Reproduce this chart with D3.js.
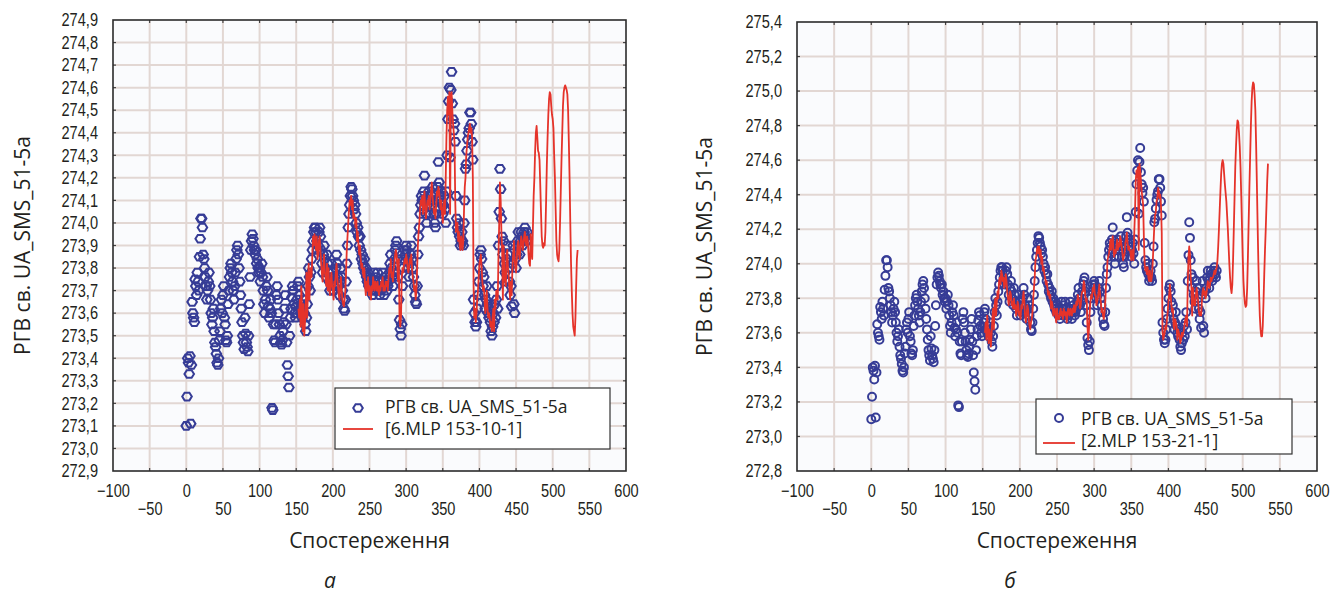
<!DOCTYPE html>
<html>
<head>
<meta charset="utf-8">
<script src="https://cdn.jsdelivr.net/npm/d3@7"></script>
<style>
  body { margin: 0; background: #fff; }
  svg { display: block; }
</style>
</head>
<body>
<svg id="chart" width="1338" height="593"></svg>
<script>
// observed groundwater level, one value per observation (index 0..465)
const observed = [
  273.10, 273.23, 273.40, 273.38, 273.33, 273.41, 273.11, 273.37, 273.65, 273.60,
  273.58, 273.56, 273.75, 273.72, 273.68, 273.78, 273.74, 273.70, 273.85, 273.93,
  274.02, 274.02, 273.98, 273.86, 273.84, 273.80, 273.76, 273.72, 273.66, 273.70,
  273.74, 273.78, 273.72, 273.66, 273.60, 273.55, 273.58, 273.62, 273.52, 273.47,
  273.45, 273.42, 273.38, 273.37, 273.40, 273.48, 273.52, 273.62, 273.66, 273.60,
  273.68, 273.72, 273.58, 273.55, 273.48, 273.47, 273.50, 273.64, 273.70, 273.76,
  273.80, 273.82, 273.78, 273.74, 273.70, 273.66, 273.72, 273.78, 273.84, 273.88,
  273.90, 273.86, 273.80, 273.74, 273.68, 273.62, 273.56, 273.50, 273.47, 273.44,
  273.58, 273.51, 273.47, 273.45, 273.43, 273.50, 273.64, 273.76, 273.88, 273.92,
  273.95, 273.93, 273.90, 273.88, 273.86, 273.88, 273.82, 273.84, 273.80, 273.78,
  273.80, 273.74, 273.78, 273.82, 273.76, 273.70, 273.64, 273.60, 273.66, 273.72,
  273.76, 273.70, 273.63, 273.58, 273.62, 273.66, 273.60, 273.18, 273.17, 273.55,
  273.48, 273.47, 273.55, 273.68, 273.72, 273.66, 273.60, 273.55, 273.50, 273.47,
  273.46, 273.48, 273.52, 273.56, 273.62, 273.68, 273.55, 273.47, 273.37, 273.32,
  273.27, 273.50, 273.58, 273.62, 273.67, 273.72, 273.70, 273.64, 273.60, 273.58,
  273.63, 273.66, 273.72, 273.74, 273.68, 273.62, 273.60, 273.64, 273.58, 273.62,
  273.66, 273.60, 273.55, 273.52, 273.58, 273.64, 273.72, 273.80, 273.76, 273.70,
  273.78, 273.84, 273.88, 273.92, 273.96, 273.98, 273.98, 273.96, 273.92, 273.88,
  273.90, 273.96, 273.98, 273.94, 273.88, 273.82, 273.78, 273.86, 273.90, 273.84,
  273.80, 273.76, 273.86, 273.82, 273.78, 273.74, 273.70, 273.76, 273.82, 273.78,
  273.74, 273.70, 273.72, 273.76, 273.80, 273.86, 273.82, 273.76, 273.72, 273.68,
  273.74, 273.80, 273.76, 273.70, 273.66, 273.62, 273.61, 273.66, 273.74, 273.82,
  273.90, 273.98, 274.04, 274.08, 274.12, 274.16, 274.15, 274.12, 274.10, 274.06,
  274.08, 274.04, 274.00, 273.96, 273.98, 273.94, 273.90, 273.94, 273.88, 273.84,
  273.86, 273.82, 273.80, 273.84, 273.78, 273.80, 273.76, 273.74, 273.78, 273.72,
  273.76, 273.72, 273.70, 273.74, 273.68, 273.72, 273.78, 273.74, 273.70, 273.76,
  273.72, 273.78, 273.74, 273.70, 273.68, 273.72, 273.70, 273.74, 273.78, 273.72,
  273.68, 273.72, 273.76, 273.74, 273.70, 273.72, 273.74, 273.78, 273.82, 273.86,
  273.80, 273.76, 273.72, 273.78, 273.84, 273.88, 273.90, 273.92, 273.84, 273.76,
  273.66, 273.57, 273.53, 273.50, 273.55, 273.72, 273.80, 273.84, 273.88, 273.86,
  273.90, 273.88, 273.84, 273.80, 273.76, 273.82, 273.86, 273.90, 273.84, 273.80,
  273.76, 273.72, 273.68, 273.65, 273.64, 273.72, 273.86, 273.94, 273.98, 274.04,
  274.08, 274.12, 274.10, 274.06, 274.14, 274.21, 274.10, 274.04, 274.00, 274.08,
  274.12, 274.14, 274.10, 274.04, 274.08, 274.12, 274.16, 274.10, 274.04, 274.00,
  273.98, 274.04, 274.10, 274.16, 274.27, 274.18, 274.12, 274.10, 274.14, 274.08,
  274.04, 274.08, 274.12, 274.06, 274.00, 274.14, 274.30, 274.46, 274.54, 274.60,
  274.29, 274.59, 274.67, 274.53, 274.46, 274.41, 274.44, 274.36, 274.12, 274.02,
  273.98, 273.96, 274.00, 273.94, 273.90, 273.92, 273.96, 273.92, 273.90, 274.00,
  274.10, 274.24, 274.26, 274.32, 274.37, 274.40, 274.42, 274.49, 274.49, 274.44,
  274.36, 274.28, 273.66, 273.60, 273.56, 273.54, 273.56, 273.62, 273.68, 273.74,
  273.80, 273.86, 273.88, 273.84, 273.78, 273.72, 273.76, 273.68, 273.62, 273.66,
  273.72, 273.64, 273.60, 273.58, 273.62, 273.56, 273.52, 273.50, 273.54, 273.60,
  273.56, 273.64, 273.58, 273.66, 273.72, 273.62, 273.90, 274.05, 274.24, 274.15,
  274.02, 273.94, 273.86, 273.92, 273.82, 273.78, 273.74, 273.84, 273.90, 273.86,
  273.80, 273.74, 273.68, 273.72, 273.63, 273.82, 273.90, 273.64, 273.60, 273.84,
  273.80, 273.86, 273.92, 273.96, 273.90, 273.86, 273.92, 273.96, 273.94, 273.90,
  273.92, 273.96, 273.98, 273.94, 273.92, 273.96
];

// network outputs start at observation 153 (153 inputs)
const predStart = 153;

const mlp6Values = [
  273.62, 273.58, 273.66, 273.54, 273.72, 273.60, 273.52,
  273.64, 273.50, 273.56, 273.62, 273.78, 273.58, 273.70, 273.82, 273.66, 273.74,
  273.80, 273.76, 273.86, 273.94, 273.90, 273.95, 273.92, 273.88, 273.94, 273.84,
  273.86, 273.92, 273.94, 273.88, 273.82, 273.78, 273.74, 273.80, 273.86, 273.78,
  273.76, 273.72, 273.82, 273.70, 273.80, 273.72, 273.68, 273.74, 273.78, 273.72,
  273.70, 273.66, 273.74, 273.72, 273.78, 273.82, 273.76, 273.72, 273.68, 273.66,
  273.72, 273.76, 273.70, 273.66, 273.64, 273.63, 273.66, 273.70, 273.78, 273.88,
  273.94, 274.00, 274.06, 274.10, 274.08, 274.12, 274.06, 274.10, 274.02, 274.04,
  274.02, 273.98, 274.02, 273.92, 273.96, 273.90, 273.86, 273.90, 273.84, 273.80,
  273.82, 273.78, 273.76, 273.80, 273.72, 273.68, 273.74, 273.70, 273.76, 273.68,
  273.72, 273.70, 273.66, 273.72, 273.70, 273.76, 273.72, 273.70, 273.74, 273.72,
  273.70, 273.74, 273.70, 273.68, 273.72, 273.70, 273.74, 273.72, 273.76, 273.70,
  273.72, 273.70, 273.74, 273.72, 273.74, 273.70, 273.76, 273.80, 273.78, 273.84,
  273.76, 273.78, 273.74, 273.80, 273.82, 273.86, 273.88, 273.86, 273.80, 273.74,
  273.84, 273.57, 273.54, 273.58, 273.76, 273.80, 273.78, 273.82, 273.84, 273.82,
  273.86, 273.84, 273.80, 273.78, 273.80, 273.84, 273.82, 273.86, 273.80, 273.76,
  273.74, 273.70, 273.72, 273.66, 273.70, 273.80, 273.90, 273.96, 274.00, 274.06,
  274.10, 274.08, 274.12, 274.04, 274.10, 274.14, 274.06, 274.02, 274.06, 274.10,
  274.08, 274.12, 274.06, 274.10, 274.14, 274.18, 274.12, 274.08, 274.04, 274.06,
  274.02, 274.08, 274.14, 274.12, 274.16, 274.14, 274.10, 274.06, 274.10, 274.04,
  274.00, 274.06, 274.10, 274.04, 274.20, 274.38, 274.50, 274.56, 274.48, 274.58,
  274.04, 274.56, 274.58, 274.50, 274.44, 274.40, 274.36, 274.10, 273.96, 273.98,
  274.00, 273.92, 273.96, 273.90, 273.88, 273.94, 273.92, 273.88, 273.92, 274.06,
  274.16, 274.20, 274.30, 274.34, 274.38, 274.40, 274.42, 274.44, 274.40, 274.42,
  274.38, 274.20, 273.72, 273.58, 273.62, 273.56, 273.60, 273.66, 273.70, 273.76,
  273.82, 273.84, 273.86, 273.80, 273.74, 273.70, 273.72, 273.66, 273.60, 273.64,
  273.70, 273.62, 273.58, 273.60, 273.58, 273.54, 273.56, 273.52, 273.58, 273.62,
  273.52, 273.66, 273.62, 273.70, 273.68, 273.66, 273.86, 274.00, 274.18, 274.10,
  273.96, 273.88, 273.66, 273.90, 273.78, 273.74, 273.72, 273.86, 273.88, 273.80,
  273.76, 273.70, 273.66, 273.74, 273.68, 273.80, 273.86, 273.92, 273.84, 273.80,
  273.78, 273.84, 273.90, 273.92, 273.86, 273.84, 273.90, 273.94, 273.92, 273.88,
  273.90, 273.94, 273.96, 273.92, 273.90, 273.94,
  273.92, 273.86, 273.82, 273.81, 273.95, 273.88, 273.84, 273.98, 274.12, 274.20,
  274.32, 274.40, 274.43, 274.38, 274.32, 274.31, 274.28, 274.17, 274.05, 273.94,
  273.90, 273.89, 273.91, 273.90, 273.96, 274.10, 274.26, 274.38, 274.48, 274.55,
  274.58, 274.57, 274.52, 274.48, 274.46, 274.42, 274.30, 274.20, 274.06, 273.92,
  273.86, 273.84, 273.83, 273.88, 274.00, 274.14, 274.28, 274.40, 274.52, 274.58,
  274.60, 274.61, 274.60, 274.59, 274.57, 274.50, 274.36, 274.20, 274.00, 273.82,
  273.70, 273.60, 273.54, 273.52, 273.50, 273.58, 273.72, 273.84, 273.88
];

const mlp2Values = [
  273.60, 273.66, 273.56, 273.70, 273.64, 273.54, 273.62,
  273.58, 273.52, 273.60, 273.68, 273.74, 273.62, 273.76, 273.80, 273.70, 273.78,
  273.84, 273.80, 273.90, 273.92, 273.88, 273.96, 273.94, 273.90, 273.92, 273.86,
  273.88, 273.94, 273.90, 273.84, 273.80, 273.76, 273.80, 273.84, 273.82, 273.76,
  273.78, 273.74, 273.80, 273.74, 273.76, 273.70, 273.72, 273.78, 273.76, 273.70,
  273.72, 273.68, 273.76, 273.74, 273.80, 273.84, 273.78, 273.70, 273.66, 273.70,
  273.76, 273.74, 273.68, 273.64, 273.62, 273.66, 273.68, 273.72, 273.80, 273.86,
  273.92, 274.02, 274.04, 274.08, 274.10, 274.06, 274.10, 274.04, 274.08, 274.00,
  274.04, 273.96, 273.98, 273.94, 273.92, 273.88, 273.90, 273.86, 273.82, 273.84,
  273.80, 273.82, 273.74, 273.78, 273.76, 273.70, 273.72, 273.74, 273.70, 273.66,
  273.74, 273.68, 273.70, 273.68, 273.72, 273.74, 273.70, 273.72, 273.68, 273.74,
  273.72, 273.70, 273.72, 273.66, 273.70, 273.74, 273.72, 273.70, 273.74, 273.72,
  273.70, 273.74, 273.72, 273.76, 273.72, 273.74, 273.78, 273.76, 273.82, 273.80,
  273.78, 273.74, 273.76, 273.82, 273.84, 273.84, 273.90, 273.88, 273.82, 273.78,
  273.80, 273.64, 273.56, 273.62, 273.72, 273.78, 273.82, 273.80, 273.86, 273.84,
  273.88, 273.82, 273.82, 273.76, 273.78, 273.80, 273.84, 273.88, 273.82, 273.78,
  273.72, 273.74, 273.70, 273.68, 273.72, 273.78, 273.88, 273.92, 274.02, 274.04,
  274.06, 274.10, 274.14, 274.08, 274.12, 274.16, 274.08, 274.04, 274.08, 274.06,
  274.10, 274.14, 274.08, 274.12, 274.10, 274.16, 274.14, 274.10, 274.06, 274.02,
  274.04, 274.06, 274.12, 274.14, 274.18, 274.12, 274.08, 274.10, 274.08, 274.06,
  274.02, 274.08, 274.06, 274.02, 274.18, 274.30, 274.48, 274.54, 274.50, 274.56,
  274.08, 274.58, 274.54, 274.48, 274.42, 274.38, 274.34, 274.14, 274.00, 273.96,
  273.98, 273.94, 273.98, 273.92, 273.90, 273.96, 273.90, 273.90, 273.94, 274.02,
  274.12, 274.22, 274.28, 274.30, 274.36, 274.38, 274.44, 274.42, 274.38, 274.40,
  274.34, 274.18, 273.62, 273.56, 273.58, 273.60, 273.64, 273.62, 273.68, 273.72,
  273.78, 273.82, 273.88, 273.82, 273.76, 273.72, 273.74, 273.64, 273.62, 273.68,
  273.66, 273.64, 273.56, 273.62, 273.60, 273.58, 273.54, 273.56, 273.60, 273.58,
  273.60, 273.62, 273.66, 273.68, 273.70, 273.64, 273.88, 274.04, 274.10, 274.06,
  273.92, 273.86, 273.70, 273.86, 273.80, 273.76, 273.76, 273.82, 273.86, 273.82,
  273.78, 273.72, 273.70, 273.72, 273.70, 273.78, 273.84, 273.86, 273.82, 273.84,
  273.80, 273.82, 273.86, 273.90, 273.88, 273.86, 273.88, 273.92, 273.90, 273.92,
  273.92, 273.94, 273.96, 273.94, 273.96, 273.98,
  274.02, 274.10, 274.20, 274.31, 274.42, 274.52, 274.58, 274.60, 274.58, 274.52,
  274.46, 274.41, 274.36, 274.28, 274.20, 274.10, 274.00, 273.92, 273.86, 273.83,
  273.88, 274.02, 274.20, 274.38, 274.56, 274.68, 274.78, 274.83, 274.82, 274.76,
  274.68, 274.56, 274.40, 274.22, 274.04, 273.90, 273.82, 273.77, 273.75, 273.76,
  273.86, 274.04, 274.24, 274.44, 274.62, 274.80, 274.94, 275.02, 275.05, 275.04,
  274.98, 274.89, 274.70, 274.48, 274.24, 274.02, 273.84, 273.70, 273.62, 273.58,
  273.58, 273.64, 273.78, 273.94, 274.08, 274.20, 274.34, 274.48, 274.58
];

const xTicks = [-100, -50, 0, 50, 100, 150, 200, 250, 300, 350, 400, 450, 500, 550, 600];
const yTicksA = [272.9, 273.0, 273.1, 273.2, 273.3, 273.4, 273.5, 273.6, 273.7, 273.8, 273.9,
                 274.0, 274.1, 274.2, 274.3, 274.4, 274.5, 274.6, 274.7, 274.8, 274.9];
const yTicksB = [272.8, 273.0, 273.2, 273.4, 273.6, 273.8, 274.0, 274.2, 274.4, 274.6, 274.8,
                 275.0, 275.2, 275.4];

const observedLabel = "РГВ св. UA_SMS_51-5a";
const xTitle = "Спостереження";

const panels = [
  {
    left: 113, top: 20, right: 626, bottom: 471,
    yTicks: yTicksA, pred: mlp6Values, predLabel: "[6.MLP 153-10-1]",
    marker: "diamond", titleX: 22, caption: "а", captionX: 330,
    legend: { x: 335, y: 388, w: 275, h: 61, mx: 358, my: 408, lx1: 343, lx2: 373, ly: 429, tx: 385, t1: 413, t2: 435 }
  },
  {
    left: 797, top: 22, right: 1317, bottom: 471,
    yTicks: yTicksB, pred: mlp2Values, predLabel: "[2.MLP 153-21-1]",
    marker: "circle", titleX: 704, caption: "б", captionX: 1010,
    legend: { x: 1036, y: 399, w: 256, h: 55, mx: 1059, my: 418, lx1: 1043, lx2: 1075, ly: 443, tx: 1081, t1: 425, t2: 447 }
  }
];

const BLUE = "#363c96";
const RED = "#e5332a";
const GRID = "#e2d7d3";
const tickFont = "'Liberation Sans', Arial, sans-serif";
const textFont = "'Open Sans', 'Noto Sans', sans-serif";
const fmt = v => d3.format(".1f")(v).replace(".", ",").replace("-", "\u2212");

// condensed look for tick numbers (the source uses a narrow face)
function condense(sel, k) {
  sel.each(function () {
    const w = this.getComputedTextLength();
    d3.select(this).attr("textLength", w * k).attr("lengthAdjust", "spacingAndGlyphs");
  });
}

const svg = d3.select("#chart");

panels.forEach(p => {
  const x = d3.scaleLinear().domain([-100, 600]).range([p.left, p.right]);
  const y = d3.scaleLinear().domain([p.yTicks[0], p.yTicks[p.yTicks.length - 1]]).range([p.bottom, p.top]);
  const g = svg.append("g");

  g.append("rect")
    .attr("x", p.left).attr("y", p.top)
    .attr("width", p.right - p.left).attr("height", p.bottom - p.top)
    .attr("fill", "#fafbfd");

  // grid
  g.selectAll(".vgrid")
    .data(xTicks.slice(1, -1))
    .join("line")
    .attr("x1", d => x(d)).attr("x2", d => x(d))
    .attr("y1", p.top).attr("y2", p.bottom)
    .attr("stroke", GRID).attr("stroke-width", 2);
  g.selectAll(".hgrid")
    .data(p.yTicks.slice(1, -1))
    .join("line")
    .attr("y1", d => y(d)).attr("y2", d => y(d))
    .attr("x1", p.left).attr("x2", p.right)
    .attr("stroke", GRID).attr("stroke-width", 2);

  // small inward ticks on all four sides
  const tk = g.append("g").attr("stroke", "#444").attr("stroke-width", 1.2);
  xTicks.slice(1, -1).forEach(d => {
    tk.append("line").attr("x1", x(d)).attr("x2", x(d)).attr("y1", p.top).attr("y2", p.top + 3);
    tk.append("line").attr("x1", x(d)).attr("x2", x(d)).attr("y1", p.bottom).attr("y2", p.bottom - 3);
  });
  p.yTicks.slice(1, -1).forEach(d => {
    tk.append("line").attr("y1", y(d)).attr("y2", y(d)).attr("x1", p.left).attr("x2", p.left + 3);
    tk.append("line").attr("y1", y(d)).attr("y2", y(d)).attr("x1", p.right).attr("x2", p.right - 3);
  });

  // observed points
  const pts = observed.map((v, i) => ({ i, v }));
  const markerPath = p.marker === "diamond"
    ? "M-4.8,0L-2.4,-3.8L2.4,-3.8L4.8,0L2.4,3.8L-2.4,3.8Z"
    : d3.symbol(d3.symbolCircle, 50)();
  g.append("g")
    .selectAll("path")
    .data(pts)
    .join("path")
    .attr("d", markerPath)
    .attr("transform", d => `translate(${x(d.i)},${y(d.v)})`)
    .attr("fill", "none")
    .attr("stroke", BLUE)
    .attr("stroke-width", 2);

  // network output
  const line = d3.line().x(d => x(d.i)).y(d => y(d.v));
  g.append("path")
    .datum(p.pred.map((v, k) => ({ i: predStart + k, v })))
    .attr("d", line)
    .attr("fill", "none")
    .attr("stroke", RED)
    .attr("stroke-width", 1.8)
    .attr("stroke-linejoin", "round");

  // frame
  g.append("rect")
    .attr("x", p.left).attr("y", p.top)
    .attr("width", p.right - p.left).attr("height", p.bottom - p.top)
    .attr("fill", "none").attr("stroke", "#2b2b2b").attr("stroke-width", 1.6);

  // axes labels
  const yAxis = g.append("g")
    .attr("transform", `translate(${p.left},0)`)
    .call(d3.axisLeft(y).tickValues(p.yTicks).tickSize(0).tickPadding(15).tickFormat(fmt));
  const xEven = g.append("g")
    .attr("transform", `translate(0,${p.bottom})`)
    .call(d3.axisBottom(x).tickValues(xTicks.filter(d => d % 100 === 0)).tickSize(0).tickPadding(13).tickFormat(d => String(d).replace("-", "\u2212")));
  const xOdd = g.append("g")
    .attr("transform", `translate(0,${p.bottom})`)
    .call(d3.axisBottom(x).tickValues(xTicks.filter(d => d % 100 !== 0)).tickSize(0).tickPadding(31).tickFormat(d => String(d).replace("-", "\u2212")));
  [yAxis, xEven, xOdd].forEach(a => {
    a.select(".domain").remove();
    a.attr("font-family", tickFont).attr("font-size", 18);
    a.selectAll("text").attr("fill", "#231f20").call(condense, 0.81);
  });

  // titles
  g.append("text")
    .attr("transform", `translate(${p.titleX},${(p.top + p.bottom) / 2}) rotate(-90)`)
    .attr("text-anchor", "middle").attr("dominant-baseline", "central")
    .attr("font-family", textFont).attr("font-size", 21).attr("fill", "#231f20")
    .text(observedLabel);
  g.append("text")
    .attr("x", (p.left + p.right) / 2).attr("y", 548)
    .attr("text-anchor", "middle")
    .attr("font-family", textFont).attr("font-size", 21).attr("fill", "#231f20")
    .text(xTitle);
  g.append("text")
    .attr("x", p.captionX).attr("y", 588)
    .attr("text-anchor", "middle")
    .attr("font-family", textFont).attr("font-style", "italic").attr("font-size", 21).attr("fill", "#231f20")
    .text(p.caption);

  // legend
  const L = p.legend;
  const lg = g.append("g");
  lg.append("rect")
    .attr("x", L.x).attr("y", L.y).attr("width", L.w).attr("height", L.h)
    .attr("fill", "#fff").attr("stroke", "#333").attr("stroke-width", 1.2);
  lg.append("path")
    .attr("d", markerPath)
    .attr("transform", `translate(${L.mx},${L.my})`)
    .attr("fill", "none").attr("stroke", BLUE).attr("stroke-width", 2);
  lg.append("line")
    .attr("x1", L.lx1).attr("x2", L.lx2).attr("y1", L.ly).attr("y2", L.ly)
    .attr("stroke", RED).attr("stroke-width", 1.8);
  lg.append("text").attr("x", L.tx).attr("y", L.t1)
    .attr("font-family", textFont).attr("font-size", 17.5).attr("fill", "#231f20")
    .text(observedLabel);
  lg.append("text").attr("x", L.tx).attr("y", L.t2)
    .attr("font-family", textFont).attr("font-size", 17.5).attr("fill", "#231f20")
    .text(p.predLabel);
});
</script>
</body>
</html>
